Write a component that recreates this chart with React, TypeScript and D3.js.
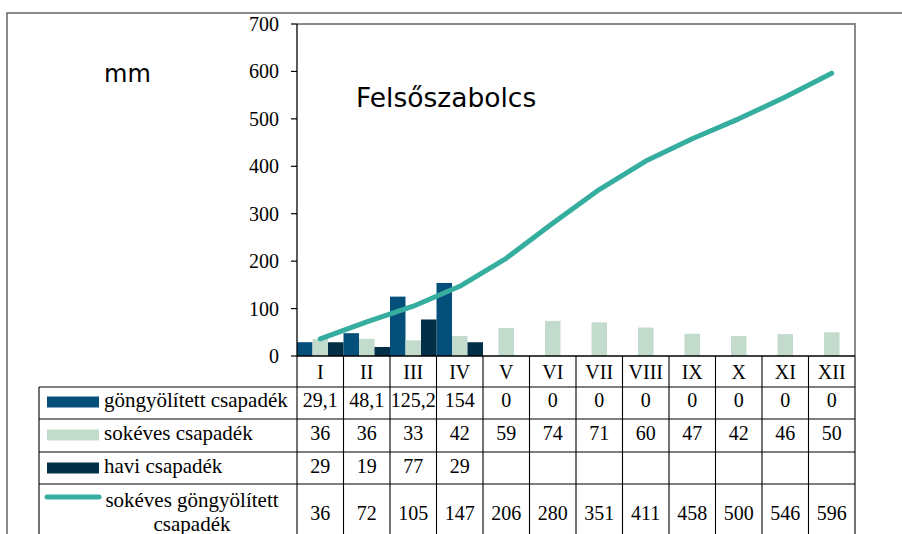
import React from "react";
import * as d3 from "d3";

const categories = ["I", "II", "III", "IV", "V", "VI", "VII", "VIII", "IX", "X", "XI", "XII"];
const gongyolitett: (number | null)[] = [29.1, 48.1, 125.2, 154, 0, 0, 0, 0, 0, 0, 0, 0];
const sokeves: (number | null)[] = [36, 36, 33, 42, 59, 74, 71, 60, 47, 42, 46, 50];
const havi: (number | null)[] = [29, 19, 77, 29, null, null, null, null, null, null, null, null];
const sokevesGongy: number[] = [36, 72, 105, 147, 206, 280, 351, 411, 458, 500, 546, 596];
const yTicks = [0, 100, 200, 300, 400, 500, 600, 700];

const seriesNames = ["göngyölített csapadék", "sokéves csapadék", "havi csapadék"];
const lineName = ["sokéves göngyölített", "csapadék"];
const colors = ["#04507a", "#c3dbcc", "#032f47"];
const lineColor = "#36ae9f";

const W = 902, H = 534;
const L = 297, R = 855, T = 24, B = 356;
const legendLeft = 39;
const rowEdges = [356, 387, 419, 452, 484, 560];
const serif = "Liberation Serif, DejaVu Serif, serif";
const sans = "DejaVu Sans, Verdana, sans-serif";

const fmt = (v: number | null) => (v === null ? "" : String(v).replace(".", ","));

export default function App() {
  const x = d3.scaleBand<string>().domain(categories).range([L, R]).padding(0);
  const sub = d3.scaleBand<number>().domain([0, 1, 2]).range([0, x.bandwidth()]).padding(0);
  const y = d3.scaleLinear().domain([0, 700]).range([B, T]);
  const line = d3
    .line<number>()
    .x((_, i) => (x(categories[i]) as number) + x.bandwidth() / 2)
    .y((d) => y(d));

  const barSeries = [gongyolitett, sokeves, havi];
  const rowsData = [gongyolitett, sokeves, havi, sokevesGongy];
  const rowBase = [406.5, 439.5, 472.5, 519.5];

  return (
    <svg width={W} height={H} style={{ position: "fixed", left: 0, top: 0, background: "#fff" }}>
      <rect x={0} y={0} width={W} height={H} fill="#fff" />
      <rect x={7} y={13} width={1000} height={700} fill="none" stroke="#5a5a5a" strokeWidth={1.4} />

      <line x1={L} x2={R + 1} y1={T} y2={T} stroke="#8a8a8a" strokeWidth={2} />
      <line x1={R} x2={R} y1={T} y2={B} stroke="#8a8a8a" strokeWidth={2} />

      {barSeries.map((s, si) =>
        s.map((v, i) =>
          v === null || v === 0 ? null : (
            <rect
              key={`b${si}-${i}`}
              x={(x(categories[i]) as number) + (sub(si) as number)}
              y={y(v)}
              width={sub.bandwidth()}
              height={B - y(v)}
              fill={colors[si]}
            />
          )
        )
      )}

      <path
        d={line(sokevesGongy) || ""}
        fill="none"
        stroke={lineColor}
        strokeWidth={5}
        strokeLinecap="round"
        strokeLinejoin="round"
      />

      <g style={{ fontFamily: serif }}>
        <line x1={L} x2={L} y1={T} y2={B} stroke="#000" strokeWidth={1.3} />
        {yTicks.map((t) => (
          <g key={t}>
            <line x1={L - 6} x2={L} y1={y(t)} y2={y(t)} stroke="#000" strokeWidth={1.2} />
            <text x={279} y={y(t)} dy="0.35em" textAnchor="end" fontSize={20}>
              {t}
            </text>
          </g>
        ))}

        <g stroke="#000" strokeWidth={1.1}>
          <line x1={L} x2={R} y1={rowEdges[0]} y2={rowEdges[0]} strokeWidth={1.3} />
          {rowEdges.slice(1, 5).map((ry) => (
            <line key={ry} x1={legendLeft} x2={R} y1={ry} y2={ry} />
          ))}
          <line x1={legendLeft} x2={legendLeft} y1={rowEdges[1]} y2={H} />
          {categories.map((c) => (
            <line key={c} x1={x(c) as number} x2={x(c) as number} y1={rowEdges[0]} y2={H} />
          ))}
          <line x1={R} x2={R} y1={rowEdges[0]} y2={H} />
        </g>

        {categories.map((c) => (
          <text key={c} x={(x(c) as number) + x.bandwidth() / 2} y={379} textAnchor="middle" fontSize={20}>
            {c}
          </text>
        ))}

        {rowsData.map((row, ri) =>
          row.map((v, i) => (
            <text
              key={`t${ri}-${i}`}
              x={(x(categories[i]) as number) + x.bandwidth() / 2}
              y={rowBase[ri]}
              textAnchor="middle"
              fontSize={20}
            >
              {fmt(v)}
            </text>
          ))
        )}

        {seriesNames.map((n, si) => (
          <g key={n}>
            <rect x={47} y={rowBase[si] - 10} width={52} height={11} fill={colors[si]} />
            <text x={104} y={rowBase[si]} fontSize={21}>
              {n}
            </text>
          </g>
        ))}
        <line x1={47} x2={99} y1={497} y2={497} stroke={lineColor} strokeWidth={5} strokeLinecap="round" />
        <text x={192} y={507} textAnchor="middle" fontSize={21}>
          {lineName[0]}
        </text>
        <text x={192} y={531} textAnchor="middle" fontSize={21}>
          {lineName[1]}
        </text>
      </g>

      <g style={{ fontFamily: sans }}>
        <text x={104} y={82} fontSize={24}>mm</text>
        <text x={356} y={107} fontSize={26.5}>Felsőszabolcs</text>
      </g>
    </svg>
  );
}
